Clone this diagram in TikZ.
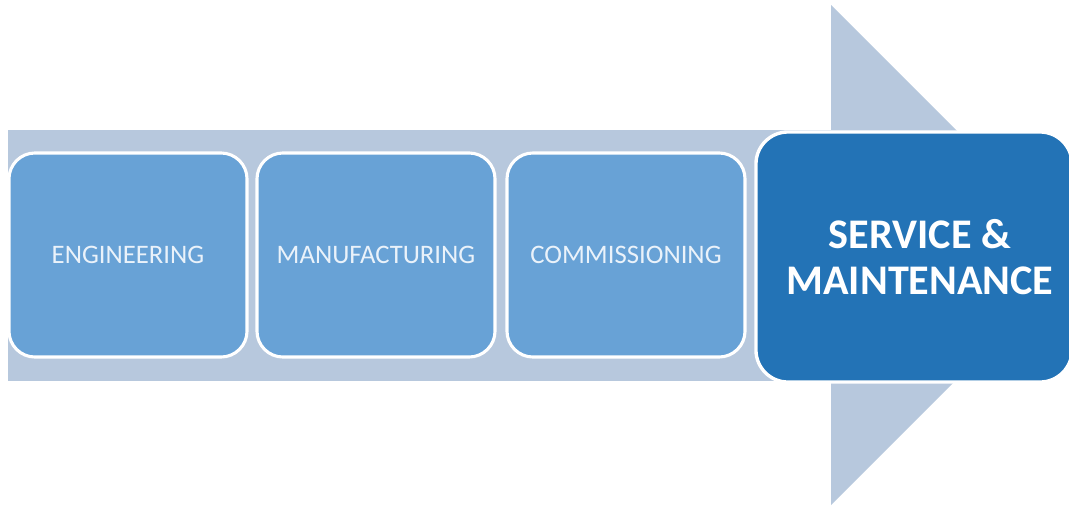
\documentclass[tikz,border=0pt]{standalone}
\usepackage{fontspec}
\setmainfont{Carlito}
\usepackage{tikz}

\definecolor{bandblue}{HTML}{B7C8DD}
\definecolor{stageblue}{HTML}{68A2D6}
\definecolor{serviceblue}{HTML}{2373B6}
\definecolor{stagetext}{HTML}{EAF2FA}

\tikzset{
  stage/.style={draw=white, line width=2.2pt, fill=stageblue, rounded corners=0.65cm,
    minimum width=5.95cm, minimum height=5.1cm, inner sep=0pt,
    text=stagetext, font=\fontsize{19}{22}\selectfont},
  service/.style={draw=white, line width=2.4pt, fill=serviceblue, rounded corners=0.8cm,
    minimum width=7.9cm, minimum height=6.25cm, inner sep=0pt, align=center,
    text=white, font=\fontsize{30}{33}\selectfont\bfseries}
}

\begin{document}
\begin{tikzpicture}[x=0.025cm, y=-0.025cm]
  \useasboundingbox (0,0) rectangle (1069,508);

  % arrow behind the stages
  \fill [bandblue] (8,130) rectangle (840,381);
  \fill [bandblue] (831,5) -- (1081,255) -- (831,505) -- cycle;

  % stages
  \node [stage] (eng) at (128,255) {ENGINEERING};
  \node [stage] (man) at (376,255) {MANUFACTURING};
  \node [stage] (com) at (626,255) {COMMISSIONING};

  \node [service] (srv) at (914,257) {\hspace*{0.3cm}SERVICE \&\\\hspace*{0.3cm}MAINTENANCE};
\end{tikzpicture}
\end{document}
